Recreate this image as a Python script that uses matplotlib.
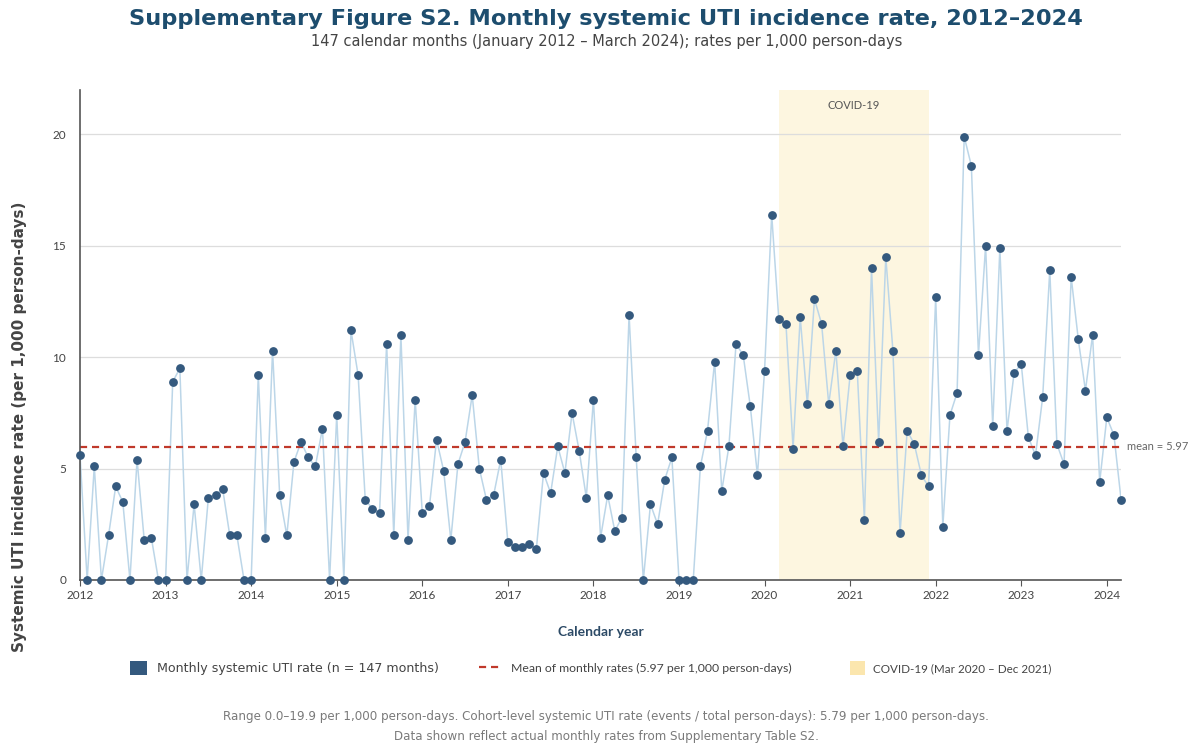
import matplotlib
matplotlib.use("Agg")
import matplotlib.pyplot as plt
from matplotlib.lines import Line2D
from matplotlib.patches import Patch
import numpy as np

# monthly systemic UTI rates per 1,000 person-days, Jan 2012 - Mar 2024
rates_2012 = [5.6, 0, 5.1, 0, 2.0, 4.2, 3.5, 0, 5.4, 1.8, 1.9, 0]
rates_2013 = [0, 8.9, 9.5, 0, 3.4, 0, 3.7, 3.8, 4.1, 2.0, 2.0, 0]
rates_2014 = [0, 9.2, 1.9, 10.3, 3.8, 2.0, 5.3, 6.2, 5.5, 5.1, 6.8, 0]
rates_2015 = [7.4, 0, 11.2, 9.2, 3.6, 3.2, 3.0, 10.6, 2.0, 11.0, 1.8, 8.1]
rates_2016 = [3.0, 3.3, 6.3, 4.9, 1.8, 5.2, 6.2, 8.3, 5.0, 3.6, 3.8, 5.4]
rates_2017 = [1.7, 1.5, 1.5, 1.6, 1.4, 4.8, 3.9, 6.0, 4.8, 7.5, 5.8, 3.7]
rates_2018 = [8.1, 1.9, 3.8, 2.2, 2.8, 11.9, 5.5, 0, 3.4, 2.5, 4.5, 5.5]
rates_2019 = [0, 0, 0, 5.1, 6.7, 9.8, 4.0, 6.0, 10.6, 10.1, 7.8, 4.7]
rates_2020 = [9.4, 16.4, 11.7, 11.5, 5.9, 11.8, 7.9, 12.6, 11.5, 7.9, 10.3, 6.0]
rates_2021 = [9.2, 9.4, 2.7, 14.0, 6.2, 14.5, 10.3, 2.1, 6.7, 6.1, 4.7, 4.2]
rates_2022 = [12.7, 2.4, 7.4, 8.4, 19.9, 18.6, 10.1, 15.0, 6.9, 14.9, 6.7, 9.3]
rates_2023 = [9.7, 6.4, 5.6, 8.2, 13.9, 6.1, 5.2, 13.6, 10.8, 8.5, 11.0, 4.4]
rates_2024 = [7.3, 6.5, 3.6]

mean_rate = 5.97
years = list(range(2012, 2025))

rates = (rates_2012 + rates_2013 + rates_2014 + rates_2015 + rates_2016 + rates_2017
         + rates_2018 + rates_2019 + rates_2020 + rates_2021 + rates_2022 + rates_2023
         + rates_2024)
t = 2012 + np.arange(len(rates)) / 12.0

W, H = 1198, 747
fig = plt.figure(figsize=(W / 100, H / 100), dpi=100)
ax = fig.add_axes([0.0668, 0.2236, 0.869, 0.656])

mean_dash = (0, (3.2, 2.2))

# covid shading
ax.axvspan(2020 + 2/12, 2021 + 11/12, color="#fdf6e0", zorder=0, lw=0)
ax.text(2020 + 2/12 + (21/12)/2, 21.3, "COVID-19", ha="center", va="center",
        fontsize=8, color="#555555", family="Lato")

ax.plot(t, rates, color="#bcd6e8", lw=1.1, zorder=2)
ax.scatter(t, rates, s=28, color="#34597e", zorder=3, clip_on=False)
ax.axhline(mean_rate, color="#c0392b", lw=1.6, ls=mean_dash, zorder=2.5)
ax.text(2024 + 2/12 + 0.07, mean_rate, "mean = 5.97", va="center", ha="left",
        fontsize=8, color="#666666", family="Lato")

ax.set_xlim(2012, 2024 + 2/12)
ax.set_ylim(0, 22)
ax.set_xticks(years)
ax.set_xticklabels([str(y) for y in years], fontsize=8.5, color="#444444", family="Lato")
ax.set_yticks([0, 5, 10, 15, 20])
ax.set_yticklabels(["0", "5", "10", "15", "20"], fontsize=8.5, color="#444444", family="Lato")
ax.grid(axis="y", color="#dddddd", lw=0.9, zorder=0)
ax.set_axisbelow(True)
for s in ["top", "right"]:
    ax.spines[s].set_visible(False)
for s in ["left", "bottom"]:
    ax.spines[s].set_color("#555555")
    ax.spines[s].set_linewidth(1.2)
ax.tick_params(axis="x", length=4, color="#555555")
ax.tick_params(axis="y", length=0, pad=10)

ax.set_xlabel("Calendar year", fontsize=10, fontweight="bold", color="#2c4a66",
              family="Lato", labelpad=18)
fig.text(20 / W, 1 - 427 / H, "Systemic UTI incidence rate (per 1,000 person-days)",
         rotation=90, ha="center", va="center", fontsize=11, fontweight="bold",
         color="#444444", family="DejaVu Sans")

fig.text(0.506, 0.974, "Supplementary Figure S2. Monthly systemic UTI incidence rate, 2012\u20132024",
         ha="center", va="center", fontsize=16.2, fontweight="bold", color="#1d4d6e",
         family="DejaVu Sans")
fig.text(0.506, 0.945, "147 calendar months (January 2012 \u2013 March 2024); rates per 1,000 person-days",
         ha="center", va="center", fontsize=10.5, color="#444444", family="DejaVu Sans")

# legend: three entries placed at fixed x positions
leg_y = 1 - 668 / H
entries = [
    (130, Patch(facecolor="#34597e", edgecolor="none"),
     "Monthly systemic UTI rate (n = 147 months)", "DejaVu Sans", 9.1, 1.35, 0.75),
    (479, Line2D([0], [0], color="#c0392b", lw=1.6, ls=mean_dash),
     "Mean of monthly rates (5.97 per 1,000 person-days)", "Lato", 8.8, 1.6, 1.0),
    (850, Patch(facecolor="#fbe6ae", edgecolor="none"),
     "COVID-19 (Mar 2020 \u2013 Dec 2021)", "Lato", 8.4, 1.3, 0.7),
]
for x0, h, lab, fam, fs, hl, htp in entries:
    lg = fig.legend([h], [lab], loc="center left", bbox_to_anchor=(x0 / W, leg_y),
                    frameon=False, borderpad=0, borderaxespad=0, handlelength=hl,
                    handleheight=1.4, handletextpad=htp,
                    prop={"family": fam, "size": fs})
    lg.get_texts()[0].set_color("#444444")

fig.text(0.506, 0.041, "Range 0.0\u201319.9 per 1,000 person-days. Cohort-level systemic UTI rate "
         "(events / total person-days): 5.79 per 1,000 person-days.",
         ha="center", va="center", fontsize=8.6, color="#7a7a7a", family="DejaVu Sans")
fig.text(0.506, 0.014, "Data shown reflect actual monthly rates from Supplementary Table S2.",
         ha="center", va="center", fontsize=8.6, color="#7a7a7a", family="DejaVu Sans")

fig.savefig("out.png", dpi=100)
